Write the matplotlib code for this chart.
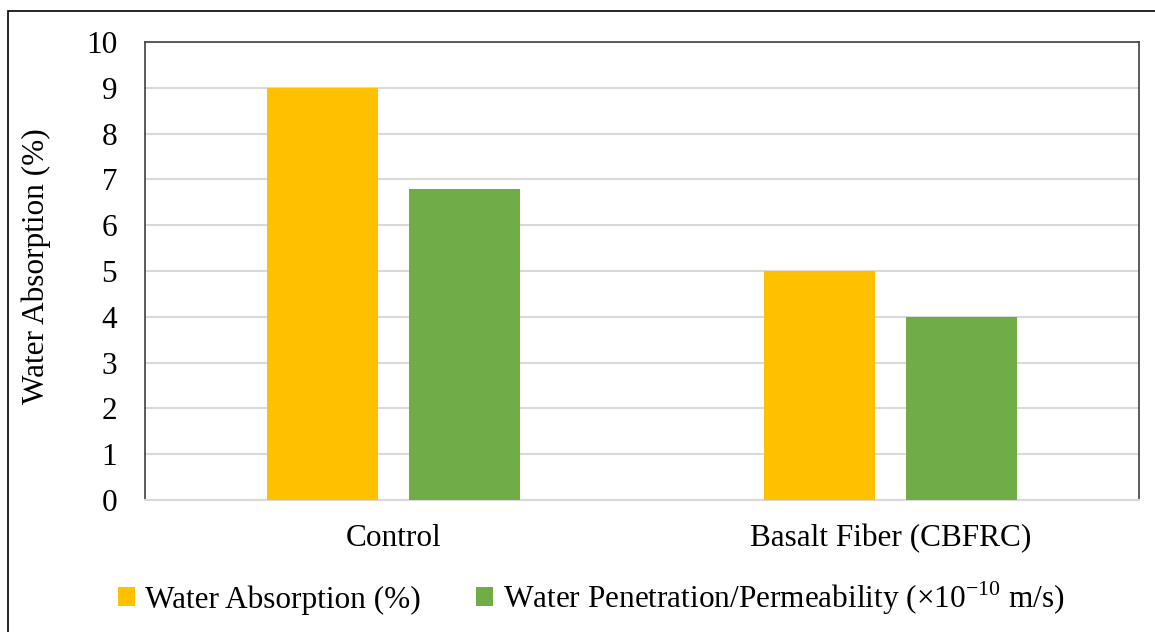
import matplotlib
matplotlib.use("Agg")
import matplotlib.pyplot as plt
from matplotlib.patches import Patch, Rectangle
import numpy as np

# ----------------------------
# Data
# ----------------------------
categories = ["Control", "Basalt Fiber (CBFRC)"]
water_absorption = [9.0, 5.0]
water_penetration = [6.8, 4.0]
series_labels = ["Water Absorption (%)",
                 "Water Penetration/Permeability (×10$^{\\mathregular{−10}}$ m/s)"]
y_ticks = list(range(0, 11))

# ----------------------------
# Style
# ----------------------------
plt.rcParams['font.family'] = ['Liberation Serif', 'DejaVu Serif']
plt.rcParams['mathtext.fontset'] = 'custom'
plt.rcParams['mathtext.rm'] = 'Liberation Serif'
FS = 22.5
YELLOW = '#FFC000'
GREEN = '#70AD47'
GRID = '#D9D9D9'
EDGE = '#404040'

W, H = 1155, 632
fig = plt.figure(figsize=(W / 100, H / 100), dpi=100)

# outer frame of the figure (cut off at right/bottom like the source)
fig.patches.append(Rectangle((8 / W, -0.1), 1.2, 1 - 11 / H + 0.1,
                             transform=fig.transFigure, fill=False,
                             edgecolor='black', linewidth=1.2))

ax = fig.add_axes([145 / W, 1 - 500 / H, 994 / W, 458 / H])

x = np.arange(len(categories))
bw = 0.2234
off = 0.143
ax.bar(x - off, water_absorption, bw, color=YELLOW, zorder=3)
ax.bar(x + off, water_penetration, bw, color=GREEN, zorder=3)

ax.set_xlim(-0.5, 1.5)
ax.set_ylim(0, 10)
ax.set_yticks(y_ticks)
ax.set_xticks(x)
ax.set_xticklabels(categories)
ax.tick_params(axis='both', length=0, labelsize=FS)
ax.tick_params(axis='y', pad=20)
ax.tick_params(axis='x', pad=17)
ax.yaxis.grid(True, color=GRID, linewidth=1.5, zorder=0)
ax.set_axisbelow(True)

for side in ['left', 'top', 'right']:
    ax.spines[side].set_color(EDGE)
    ax.spines[side].set_linewidth(1.2)
ax.spines['bottom'].set_color(GRID)
ax.spines['bottom'].set_linewidth(1.5)

ax.set_ylabel("Water Absorption (%)", fontsize=FS)
ax.yaxis.set_label_coords((51 - 145) / 994, 0.51)

handles = [Patch(facecolor=YELLOW), Patch(facecolor=GREEN)]
fig.legend(handles, series_labels, loc='center left',
           bbox_to_anchor=(118 / W, 1 - 598 / H), ncol=2, frameon=False,
           fontsize=FS, handlelength=0.55, handleheight=0.55,
           handletextpad=0.32, columnspacing=1.75, borderpad=0,
           borderaxespad=0)

fig.savefig("out.png", dpi=100)
